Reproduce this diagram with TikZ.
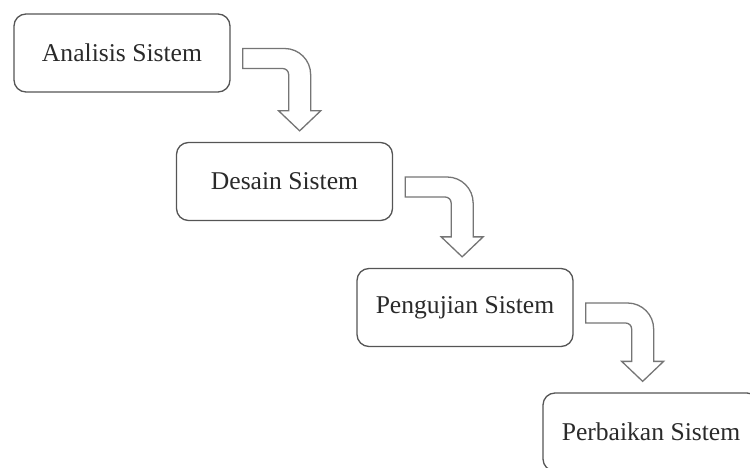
\documentclass[tikz,border=0pt]{standalone}
\usepackage{fontspec}
\setmainfont{Liberation Serif}
\usepackage{tikz}
\usetikzlibrary{positioning,calc}
\definecolor{boxline}{HTML}{555555}
\definecolor{arrowline}{HTML}{757575}
\definecolor{steptext}{HTML}{2A2A2A}

\tikzset{
  stepbox/.style={draw=boxline, line width=1.3pt, rounded corners=12pt, minimum width=216pt, minimum height=78pt, inner sep=0pt, text=steptext, font=\fontsize{25.6}{30}\selectfont},
  flowarrow/.style={draw=arrowline, line width=1.3pt, fill=white, line join=miter}
}

% bent block arrow from one step box down to the next
\newcommand{\flowstep}[2]{%
  \coordinate (#2-head) at ([yshift=31pt]#2.north);
  \coordinate (#2-tip) at ([yshift=11pt]#2.north);
  \begin{scope}[shift={(#1.east)}, xshift=12pt, yshift=4.5pt]
    \draw[flowarrow] (0,0) -- (42,0) arc[start angle=90, end angle=0, radius=26]
      -- (68,0 |- #2-head) -- (78,0 |- #2-head) -- (57,0 |- #2-tip)
      -- (36,0 |- #2-head) -- (46,0 |- #2-head) -- (46,-26)
      arc[start angle=0, end angle=90, radius=6] -- (0,-20) -- cycle;
  \end{scope}}

\begin{document}
\begin{tikzpicture}[x=1pt, y=1pt]
    \useasboundingbox (0,0) rectangle (750,467);
    \clip (0,0) rectangle (750,467);

    % Step boxes
    \node[stepbox] (analisis) at (122,414) {Analisis Sistem};
    \node[stepbox] (desain) at (284.5,285.5) {Desain Sistem};
    \node[stepbox] (pengujian) at (465,159.5) {Pengujian Sistem};
    \node[stepbox] (perbaikan) at (651,35) {Perbaikan Sistem};

    % Arrows between steps
    \flowstep{analisis}{desain}
    \flowstep{desain}{pengujian}
    \flowstep{pengujian}{perbaikan}
\end{tikzpicture}
\end{document}
